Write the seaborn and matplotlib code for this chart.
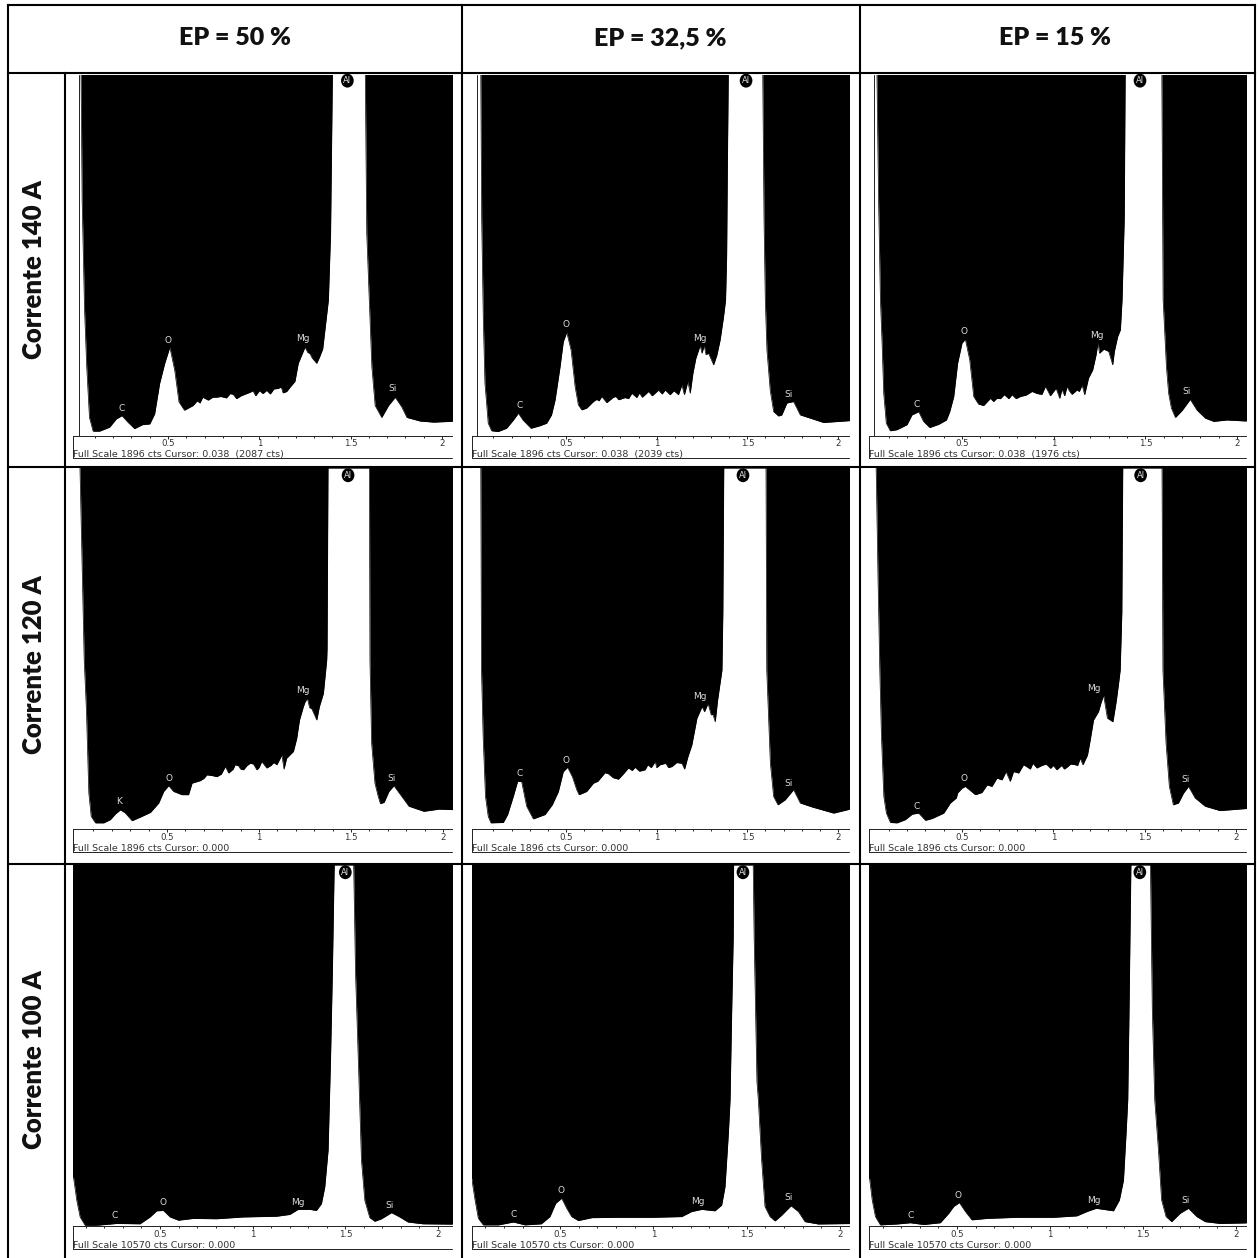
import matplotlib
matplotlib.use("Agg")
import matplotlib.pyplot as plt
import pandas as pd
import seaborn as sns

# spectra: (energy keV, height as % of the visible full scale)
s_140_50 = [(0.024,100),(0.03,65),(0.043,35),(0.055,19),(0.07,5),(0.09,1.2),(0.125,1.2),(0.18,2.3),(0.217,4.6),(0.248,5.5),(0.28,3.7),(0.317,1.9),(0.36,3),(0.4,3.2),(0.427,6),(0.454,14.4),(0.482,20),(0.51,24.5),(0.537,18),(0.56,9.3),(0.59,7),(0.637,8.3),(0.69,10.6),(0.72,9.8),(0.765,10.6),(0.82,10.4),(0.857,11.4),(0.875,10.2),(0.95,12),(0.98,11),(1.0,12.4),(1.04,12.5),(1.06,11.5),(1.1,13),(1.13,11.8),(1.168,13.4),(1.195,15),(1.213,20),(1.25,24.5),(1.277,22.7),(1.314,20),(1.347,24),(1.378,37.5),(1.39,56),(1.4,100),(1.58,100),(1.588,56),(1.6,40),(1.616,19),(1.634,8.3),(1.67,5),(1.707,8.3),(1.744,10.6),(1.78,7.9),(1.808,5),(1.88,4),(1.954,3.7),(2.09,4),
            (0.66,9.6),(0.675,9),(0.745,10.6),(0.79,10.8),(0.84,11.6),(0.9,11),(0.965,12.4),(1.02,11.6),(1.08,12.9),(1.12,13.4),(1.15,12.2),(1.265,23),(1.29,21.4),(1.33,21.8)]
s_140_325 = [(0.03,100),(0.035,60),(0.044,32),(0.053,14.5),(0.071,3.4),(0.09,1.3),(0.126,1.1),(0.172,2),(0.21,4.3),(0.237,6.2),(0.264,4.2),(0.307,2),(0.356,2.7),(0.393,3.4),(0.42,5.7),(0.44,9.9),(0.467,19),(0.485,26),(0.504,28.6),(0.528,23.7),(0.55,13.6),(0.568,8.5),(0.587,7.1),(0.614,7.6),(0.651,9.4),(0.669,10),(0.697,10.8),(0.725,9.1),(0.761,10.6),(0.79,9.9),(0.826,10.5),(0.863,11.7),(0.89,10.5),(0.936,11.3),(0.991,11.7),(1.047,12.6),(1.074,11.3),(1.12,11.3),(1.139,14),(1.153,11.3),(1.172,15),(1.185,11.7),(1.2,17.3),(1.216,21.4),(1.24,25),(1.262,25),(1.286,22.8),(1.314,19.6),(1.332,22.3),(1.35,26.5),(1.369,33),(1.38,37.6),(1.386,50),(1.39,75),(1.395,100),(1.585,100),(1.592,60),(1.599,37.6),(1.608,23.7),(1.626,12.6),(1.645,6.6),(1.672,5.4),(1.69,5.7),(1.718,9),(1.755,9.4),(1.792,5.7),(1.847,4.8),(1.92,3.6),(2.09,4.2),
             (0.682,9.6),(0.775,10.8),(0.845,10.2),(0.905,11.8),(0.92,10.6),(0.955,12.2),(0.975,11),(1.01,12.6),(1.03,11.5),(1.095,12.4),(1.25,22.8),(1.272,22.4)]
s_140_15 = [(0.036,100),(0.045,65),(0.055,37.6),(0.064,25.6),(0.073,11.7),(0.087,3.4),(0.109,1.3),(0.145,1.6),(0.2,3),(0.227,5.7),(0.264,6.6),(0.29,3.9),(0.324,2.2),(0.373,3.1),(0.415,4.3),(0.433,6.6),(0.455,10.8),(0.476,20),(0.5,25.6),(0.518,26.7),(0.542,21),(0.564,10.8),(0.59,8.7),(0.618,8.3),(0.655,10.3),(0.69,10.3),(0.73,11.3),(0.755,10.2),(0.773,11.3),(0.818,10.8),(0.882,12.2),(0.936,11.4),(0.955,13.6),(0.982,11),(1.013,13.1),(1.033,10.3),(1.073,13.6),(1.1,11.4),(1.127,12.6),(1.155,14),(1.169,11.3),(1.19,15.9),(1.213,18.2),(1.231,22.3),(1.242,25.8),(1.25,22.8),(1.273,23.9),(1.3,23.3),(1.322,19.6),(1.331,23.3),(1.349,27.4),(1.364,29.3),(1.373,37.6),(1.385,60),(1.39,100),(1.59,100),(1.597,37.6),(1.615,19),(1.627,11.7),(1.642,7.6),(1.664,5),(1.7,6.9),(1.745,10),(1.782,7),(1.827,4.8),(1.873,3.9),(1.945,4.3),(2.09,3.9),
            (0.672,9.4),(0.71,10.2),(0.795,10.2),(0.85,11.2),(0.91,11.6),(0.97,12.2),(1.045,12.8),(1.06,11),(1.085,12.4),(1.14,12.2)]

s_120_50 = [(0.027,100),(0.04,70),(0.05,46.8),(0.062,33),(0.075,10),(0.088,3.5),(0.111,1.7),(0.156,1.7),(0.192,2.6),(0.22,4.2),(0.247,5.3),(0.274,4.4),(0.31,2.3),(0.355,3.3),(0.41,4.6),(0.455,7.2),(0.482,10.4),(0.509,12),(0.536,10.4),(0.581,9.5),(0.617,9.5),(0.636,12.7),(0.681,13.4),(0.717,15),(0.771,14.5),(0.817,17.3),(0.835,15.5),(0.889,17.5),(0.916,16.4),(0.952,18.2),(0.988,16.4),(1.015,18.7),(1.042,16.9),(1.097,17.8),(1.124,20.5),(1.136,16.6),(1.15,19.6),(1.187,21.5),(1.205,25.1),(1.22,30.2),(1.241,33.9),(1.263,36.2),(1.286,33.4),(1.314,30.2),(1.328,33.9),(1.35,37.6),(1.368,46.8),(1.37,50),(1.375,100),(1.6,100),(1.603,46.8),(1.612,23.8),(1.63,12.7),(1.648,9),(1.66,7),(1.68,7.4),(1.706,10.4),(1.733,12),(1.769,9.5),(1.815,6.3),(1.896,4.9),(1.978,5.5),(2.09,5.3),
            (0.7,14),(0.745,14.8),(0.795,15.2),(0.86,16.6),(0.87,17.8),(0.9,16.6),(0.935,17.6),(0.97,18),(1.0,17),(1.065,17.6),(1.08,18.4),(1.25,35.2),(1.275,33.6)]
s_120_325 = [(0.03,100),(0.034,44),(0.043,25.6),(0.056,9),(0.071,3.5),(0.086,1.7),(0.154,1.8),(0.178,4),(0.209,9),(0.233,13.2),(0.255,13.2),(0.283,6.3),(0.32,2.8),(0.384,4),(0.424,6.7),(0.458,10.4),(0.485,15.9),(0.509,17.1),(0.535,14.5),(0.559,10.9),(0.572,9.5),(0.614,10.4),(0.651,12.7),(0.697,14.5),(0.734,15.3),(0.789,13.8),(0.844,16.9),(0.881,17.1),(0.936,16.4),(0.951,17.8),(0.992,18.7),(1.019,17.8),(1.084,17.3),(1.139,18.2),(1.154,16.6),(1.172,20),(1.194,23.3),(1.222,30.7),(1.25,33.9),(1.264,32.5),(1.283,34.8),(1.301,31.6),(1.323,29.7),(1.336,35.7),(1.36,44),(1.365,60),(1.37,100),(1.603,100),(1.607,44),(1.627,18.2),(1.645,9),(1.669,6.7),(1.709,8.1),(1.755,10.9),(1.792,7.2),(1.857,6.1),(1.976,4.4),(2.09,5.8),
             (0.675,13.2),(0.715,15.6),(0.76,14.2),(0.815,15.2),(0.865,16.2),(0.905,16),(0.97,17),(1.0,17),(1.05,18.2),(1.065,17),(1.11,18.4),(1.292,33.2),(1.31,31.8)]
s_120_15 = [(0.03,100),(0.04,70),(0.05,44),(0.059,25.6),(0.072,9),(0.086,4.4),(0.108,1.8),(0.145,1.7),(0.19,2.6),(0.227,4.1),(0.263,4.4),(0.3,2.4),(0.336,2.9),(0.4,4.4),(0.436,7.2),(0.469,8.6),(0.476,10),(0.5,11.3),(0.518,11.8),(0.573,9.5),(0.609,10.1),(0.637,12.2),(0.664,11.8),(0.691,14.1),(0.719,13.6),(0.741,15.9),(0.764,13.2),(0.782,15.9),(0.81,15.5),(0.837,17.8),(0.874,16.6),(0.888,18.2),(0.91,16.9),(0.937,17.6),(1.019,16.4),(1.074,17.1),(1.12,17.8),(1.147,19.6),(1.162,17.8),(1.187,20.5),(1.202,24.7),(1.22,30.2),(1.247,32.5),(1.26,34.8),(1.275,37.1),(1.296,30.7),(1.326,29.7),(1.344,35.3),(1.357,40.3),(1.366,44),(1.375,60),(1.38,100),(1.595,100),(1.6,44),(1.617,23.8),(1.635,11.8),(1.657,6.7),(1.685,7.2),(1.712,9.9),(1.74,11.8),(1.776,8.6),(1.831,6.3),(1.912,5.1),(2.09,5.8),
            (0.96,18),(0.985,16.8),(1.0,17.6),(1.045,17.6),(1.06,16.6),(1.095,18),(1.133,17.6)]

s_100_50 = [(0.0,13.6),(0.033,13.6),(0.051,7.1),(0.069,2.5),(0.096,0.2),(0.159,0.2),(0.266,0.7),(0.392,0.6),(0.446,2.5),(0.482,4.2),(0.518,4.3),(0.554,2.5),(0.599,1.6),(0.68,2.1),(0.805,2),(0.949,2.5),(1.129,2.7),(1.2,3.2),(1.245,4.6),(1.308,4.6),(1.344,4.3),(1.371,6.2),(1.389,10.8),(1.407,21),(1.42,46),(1.43,70),(1.44,100),(1.545,100),(1.555,70),(1.57,46),(1.587,18.2),(1.605,7.1),(1.632,2.3),(1.659,1.3),(1.695,2),(1.749,3.7),(1.793,2.5),(1.838,1.1),(1.919,0.6),(2.1,0.5)]
s_100_325 = [(0.0,13.2),(0.027,13.2),(0.045,7.2),(0.0625,2.1),(0.089,0.3),(0.17,0.3),(0.25,1.1),(0.3125,0.3),(0.4,0.6),(0.446,2.6),(0.477,6.3),(0.509,7.7),(0.536,4.9),(0.5625,2.6),(0.598,1.5),(0.67,2.3),(0.795,2.4),(0.991,2.4),(1.152,2.6),(1.205,4),(1.259,4.6),(1.33,4.2),(1.366,5.8),(1.384,10.9),(1.402,25.7),(1.411,34.9),(1.42,60),(1.428,80),(1.43,100),(1.535,100),(1.54,80),(1.555,40),(1.5625,34.9),(1.58,18.3),(1.598,5.4),(1.625,2.6),(1.652,1.4),(1.6875,3),(1.7375,5.6),(1.777,4),(1.8125,1.2),(1.884,0.55),(2.1,0.7)]
s_100_15 = [(0.0,13.2),(0.03,13.2),(0.044,7.2),(0.0615,2.6),(0.088,0.3),(0.178,0.55),(0.249,0.9),(0.321,0.4),(0.41,0.9),(0.455,3.5),(0.482,5.4),(0.5125,6.5),(0.545,4),(0.58,1.7),(0.661,2.1),(0.822,2.4),(1.019,2.4),(1.144,2.8),(1.198,4),(1.248,4.9),(1.341,4.2),(1.373,7.2),(1.395,12.7),(1.409,25.7),(1.418,34.9),(1.425,60),(1.435,100),(1.54,100),(1.55,60),(1.563,34.9),(1.583,21),(1.6,7.2),(1.624,2.6),(1.654,1.2),(1.699,3.5),(1.744,4.9),(1.789,2.6),(1.834,1.2),(1.914,0.7),(2.1,0.9)]

# element labels: (element, energy, height)
l_140_50 = [("C",.244,7.4),("O",.5,26.4),("Mg",1.237,26.9),("Si",1.73,13.1),("Al",1.482,98.3)]
l_140_325 = [("C",.242,8.2),("O",.5,30.7),("Mg",1.236,26.8),("Si",1.728,11.4),("Al",1.493,98.3)]
l_140_15 = [("C",.255,8.6),("O",.509,28.7),("Mg",1.236,27.7),("Si",1.727,12.2),("Al",1.471,98.3)]
l_120_50 = [("K",.24,7.6),("O",.509,13.9),("Mg",1.236,38.3),("Si",1.72,14),("Al",1.484,98)]
l_120_325 = [("C",.242,15.3),("O",.5,19),("Mg",1.236,36.8),("Si",1.728,12.7),("Al",1.476,98)]
l_120_15 = [("C",.254,6.3),("O",.509,13.9),("Mg",1.22,39),("Si",1.725,13.8),("Al",1.478,98)]
l_100_50 = [("C",.257,2.8),("O",.514,6.4),("Mg",1.245,6.6),("Si",1.736,5.7),("Al",1.5,98)]
l_100_325 = [("C",.25,3.2),("O",.504,9.7),("Mg",1.236,6.7),("Si",1.723,7.8),("Al",1.48,98)]
l_100_15 = [("C",.249,3),("O",.505,8.4),("Mg",1.237,7),("Si",1.73,7),("Al",1.483,98)]

col_titles = ["EP = 50 %", "EP = 32,5 %", "EP = 15 %"]
row_titles = ["Corrente 140 A", "Corrente 120 A", "Corrente 100 A"]
footers = ["Full Scale 1896 cts Cursor: 0.038  (2087 cts)", "Full Scale 1896 cts Cursor: 0.038  (2039 cts)", "Full Scale 1896 cts Cursor: 0.038  (1976 cts)",
           "Full Scale 1896 cts Cursor: 0.000", "Full Scale 1896 cts Cursor: 0.000", "Full Scale 1896 cts Cursor: 0.000",
           "Full Scale 10570 cts Cursor: 0.000", "Full Scale 10570 cts Cursor: 0.000", "Full Scale 10570 cts Cursor: 0.000"]
tick_values = [0.5, 1, 1.5, 2]
tick_labels = ["0.5", "1", "1.5", "2"]
spectra = [s_140_50, s_140_325, s_140_15, s_120_50, s_120_325, s_120_15, s_100_50, s_100_325, s_100_15]
labels = [l_140_50, l_140_325, l_140_15, l_120_50, l_120_325, l_120_15, l_100_50, l_100_325, l_100_15]

# layout in pixels
W = 1258
col_left = [73, 472, 869]
col_right = [452, 849, 1246]
row_top = [75, 468, 865]
row_base = [435.5, 829, 1226]
row_bottom = [458, 852, 1249]
tick_px = [(168, 442), (566, 838), (962, 1237), (167, 443), (566, 838), (962, 1236), (160, 438), (560, 840), (957, 1236)]
cursor_energy = [0.013, 0.009, 0.02]

sns.set_theme(style="white")
plt.rcParams["font.family"] = ["DejaVu Sans"]
fig = plt.figure(figsize=(W / 100, W / 100), dpi=100, facecolor="white")

# table rules
bg = fig.add_axes([0, 0, 1, 1])
bg.set_xlim(0, W)
bg.set_ylim(W, 0)
bg.axis("off")
for x0, y0, x1, y1 in [(7.5, 5, 1255, 5), (7.5, 73, 1255, 73), (7.5, 467, 1255, 467), (7.5, 864, 1255, 864),
                       (7.5, 5, 7.5, W), (65, 73, 65, W), (462, 5, 462, W), (859.5, 5, 859.5, W), (1255, 5, 1255, W)]:
    bg.plot([x0, x1], [y0, y1], color="black", lw=1.5, solid_capstyle="projecting")
for x, t in zip([235, 660, 1055], col_titles):
    bg.text(x, 38, t, ha="center", va="center", family="Lato", weight="heavy", fontsize=18, color="#111111")
for y, t in zip([270, 665, 1060], row_titles):
    bg.text(34, y, t, ha="center", va="center", rotation=90, family="Lato", weight="heavy", fontsize=18.5, color="#111111")

for i, (spec, labs, foot) in enumerate(zip(spectra, labels, footers)):
    r, c = i // 3, i % 3
    L, R, T, B, Z = col_left[c], col_right[c], row_top[r], row_base[r], row_bottom[r]
    ax = fig.add_axes([L / W, 1 - B / W, (R - L) / W, (B - T) / W], facecolor="white")
    df = pd.DataFrame(spec, columns=["energy", "height"]).sort_values("energy")
    top = (B - T) / 3.61
    sns.lineplot(data=df, x="energy", y="height", estimator=None, sort=False, color="black", lw=0.5, ax=ax)
    ax.fill_between(df["energy"], df["height"], top + 5, color="black", lw=0)
    p5, p2 = tick_px[i]
    per = (p2 - p5) / 1.5
    ax.set_xlim(0.5 + (L - p5) / per, 0.5 + (R - p5) / per)
    ax.set_ylim(0, top)
    ax.set_xlabel("")
    ax.set_ylabel("")
    ax.set_yticks([])
    ax.set_xticks(tick_values, tick_labels)
    ax.set_xticks([k / 10 for k in range(1, 21)], minor=True)
    ax.tick_params(axis="x", which="major", direction="out", length=1.8, width=0.7, pad=0.8, labelsize=6.2, labelcolor="#333333", bottom=True)
    ax.tick_params(axis="x", which="minor", direction="out", length=1.2, width=0.7, bottom=True)
    for s in ["top", "left", "right"]:
        ax.spines[s].set_visible(False)
    ax.spines["bottom"].set_linewidth(0.7)
    ax.spines["bottom"].set_color("#222222")
    if r == 0:
        ax.axvline(cursor_energy[c], color="#222222", lw=0.7)
    for name, e, h in labs:
        if name == "Al":
            ax.text(e, h, name, ha="center", va="center", fontsize=6, color="#dddddd",
                    bbox=dict(boxstyle="ellipse,pad=0.05", fc="black", ec="black", lw=0))
        else:
            ax.text(e, h, name, ha="center", va="center", fontsize=6.5, color="#dddddd")
    bg.plot([L, L], [B, Z], color="#222222", lw=0.7)
    bg.plot([L, R], [Z, Z], color="#222222", lw=0.7)
    bg.text(L, Z - 3.5, foot, ha="left", va="center", fontsize=6.8, color="#333333")

fig.savefig("out.png", dpi=100)
